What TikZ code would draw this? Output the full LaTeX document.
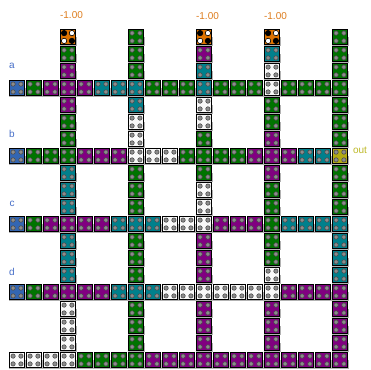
\documentclass[tikz,border=0pt]{standalone}
\usepackage{fontspec}
\setmainfont{Liberation Sans}
\definecolor{tileB}{RGB}{51,102,178}
\definecolor{tileG}{RGB}{0,115,0}
\definecolor{tileP}{RGB}{128,0,128}
\definecolor{tileT}{RGB}{0,128,140}
\definecolor{tileW}{RGB}{248,248,248}
\definecolor{tileO}{RGB}{222,115,0}
\definecolor{tileY}{RGB}{178,170,20}
\definecolor{labelblue}{RGB}{70,110,200}
\definecolor{labelorange}{RGB}{222,125,30}
\definecolor{labelolive}{RGB}{190,185,40}
\tikzset{x=1pt,y=-1pt,
  tile/.style={draw=black,line width=1.1pt,minimum size=15pt,inner sep=0pt,outer sep=0pt},
  shade/.style={fill=black!30},
  peg/.style={circle,draw=black!70,fill=black!45,line width=0.6pt,minimum size=4.3pt,inner sep=0pt},
  pegblack/.style={circle,fill=black,draw=black,line width=0.6pt,minimum size=5.4pt,inner sep=0pt},
  pegwhite/.style={circle,fill=white,draw=black,line width=0.6pt,minimum size=5.4pt,inner sep=0pt},
  lbl/.style={font=\fontsize{10}{10}\selectfont,inner sep=0pt}
}
% one tile: column, row, colour letter
\newcommand{\brick}[3]{
  \pgfmathsetmacro{\bx}{17+17*#1}
  \pgfmathsetmacro{\by}{37+17*#2}
  \fill[shade] (\bx-8.5,\by) rectangle (\bx+8.5,\by+9);
  \node[tile,fill=tile#3] (t-#1-#2) at (\bx,\by) {};
  \foreach \dx in {-3.9,3.9} \foreach \dy in {-3.9,3.9}
    \node[peg] at (\bx+\dx,\by+\dy) {};
}
\newcommand{\spotted}[2]{
  \pgfmathsetmacro{\bx}{17+17*#1}
  \pgfmathsetmacro{\by}{37+17*#2}
  \fill[shade] (\bx-8.5,\by) rectangle (\bx+8.5,\by+9);
  \node[tile,fill=tileO] (t-#1-#2) at (\bx,\by) {};
  \node[pegblack] at (\bx-3.9,\by-3.9) {};
  \node[pegwhite] at (\bx+3.9,\by-3.9) {};
  \node[pegwhite] at (\bx-3.9,\by+3.9) {};
  \node[pegblack] at (\bx+3.9,\by+3.9) {};
}
\begin{document}
\begin{tikzpicture}
  \useasboundingbox (0,0) rectangle (371,369);
  \fill[white] (0,0) rectangle (371,369);

  % columns
  \foreach \cc/\cols in {3/{O,G,P,P,P,G,G,G,T,T,T,P,T,T,T,P,W,W,W,W},
                         7/{G,G,G,T,T,W,W,W,G,G,G,T,G,G,G,T,G,G,G,G},
                         11/{O,P,T,T,W,W,G,G,G,W,W,W,P,P,P,W,P,P,P,P},
                         15/{O,T,W,W,G,G,P,P,P,G,G,G,G,G,W,W,P,P,P,P},
                         19/{G,G,G,G,G,G,G,Y,G,G,G,T,T,T,T,P,P,P,P,P}}
    \foreach \k [count=\r from 0] in \cols
      \brick{\cc}{\r}{\k};

  % rows
  \foreach \rr/\cols in {3/{B,G,P,P,P,T,T,T,G,G,G,T,G,G,G,W,G,G,G,G},
                         7/{B,G,G,G,P,P,P,W,W,W,G,G,G,G,P,P,P,T,T,Y},
                         11/{B,G,P,P,P,P,T,T,T,W,W,W,P,P,P,G,T,T,T,T},
                         15/{B,G,P,P,P,P,T,T,T,W,W,W,W,W,W,W,P,P,P,P},
                         19/{W,W,W,W,G,G,G,G,P,P,P,P,P,P,P,P,P,P,P,P}}
    \foreach \k [count=\c from 0] in \cols
      \brick{\c}{\rr}{\k};

  % the three charged inputs
  \foreach \cc in {3,11,15}
    \spotted{\cc}{0};

  \node[lbl,text=labelorange] (w1) at (71.5,15) {-1.00};
  \node[lbl,text=labelorange] (w2) at (207.5,16) {-1.00};
  \node[lbl,text=labelorange] (w3) at (275.5,16) {-1.00};
  \node[lbl,text=labelblue] (la) at (12,66) {a};
  \node[lbl,text=labelblue] (lb) at (12,134) {b};
  \node[lbl,text=labelblue] (lc) at (12,204) {c};
  \node[lbl,text=labelblue] (ld) at (12,272) {d};
  \node[lbl,text=labelolive] (lout) at (360,150) {out};
\end{tikzpicture}
\end{document}
